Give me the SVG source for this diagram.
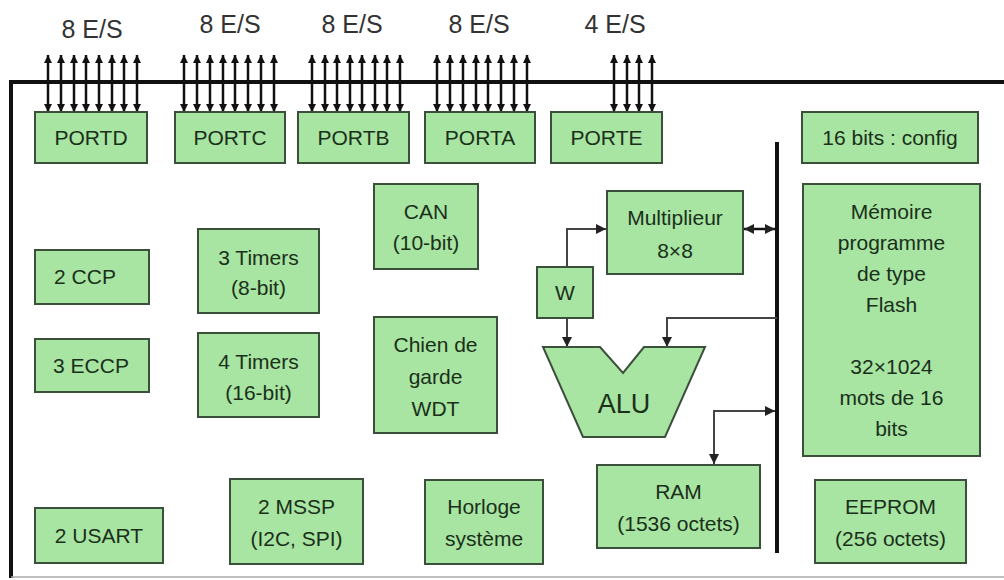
<svg xmlns="http://www.w3.org/2000/svg" width="1004" height="580" viewBox="0 0 1004 580">
<style>
.box{fill:#a8e4a2;stroke:#3b503b;stroke-width:2}
.t{font-family:"Liberation Sans",Arial,sans-serif;font-size:21px;fill:#1a301a;text-anchor:middle}
.lbl{font-family:"Liberation Sans",Arial,sans-serif;font-size:25px;fill:#333;text-anchor:middle}
.pin{stroke:#111;stroke-width:2.5;marker-start:url(#ah);marker-end:url(#ah)}
.con{fill:none;stroke:#444;stroke-width:2}
</style>
<defs>
<marker id="ah" viewBox="0 0 10 10" refX="10" refY="5" markerUnits="userSpaceOnUse" markerWidth="8" markerHeight="8" orient="auto-start-reverse">
<path d="M0,0 L10,5 L0,10 z" fill="#111"/>
</marker>
<marker id="ag" viewBox="0 0 10 10" refX="10" refY="5" markerUnits="userSpaceOnUse" markerWidth="10" markerHeight="10" orient="auto-start-reverse">
<path d="M0,0 L10,5 L0,10 z" fill="#222"/>
</marker>
</defs>
<rect width="1004" height="580" fill="#fff"/>
<g id="frame">
<line x1="10" y1="82" x2="1004" y2="82" stroke="#111" stroke-width="4"/>
<line x1="11" y1="80" x2="11" y2="578" stroke="#111" stroke-width="4"/>
<line x1="11" y1="577" x2="1004" y2="577" stroke="#aaa" stroke-width="1.5"/>
<line x1="777" y1="142" x2="777" y2="553" stroke="#111" stroke-width="4"/>
</g>
<g id="labels">
<text class="lbl" x="92" y="38">8 E/S</text>
<text class="lbl" x="230" y="33">8 E/S</text>
<text class="lbl" x="352" y="33">8 E/S</text>
<text class="lbl" x="479" y="33">8 E/S</text>
<text class="lbl" x="615" y="33">4 E/S</text>
</g>
<g id="connectors">
<line class="pin" x1="48" y1="55" x2="48" y2="112"/>
<line class="pin" x1="61" y1="55" x2="61" y2="112"/>
<line class="pin" x1="74" y1="55" x2="74" y2="112"/>
<line class="pin" x1="86" y1="55" x2="86" y2="112"/>
<line class="pin" x1="99" y1="55" x2="99" y2="112"/>
<line class="pin" x1="112" y1="55" x2="112" y2="112"/>
<line class="pin" x1="124" y1="55" x2="124" y2="112"/>
<line class="pin" x1="137" y1="55" x2="137" y2="112"/>
<line class="pin" x1="184" y1="55" x2="184" y2="112"/>
<line class="pin" x1="197" y1="55" x2="197" y2="112"/>
<line class="pin" x1="210" y1="55" x2="210" y2="112"/>
<line class="pin" x1="223" y1="55" x2="223" y2="112"/>
<line class="pin" x1="235" y1="55" x2="235" y2="112"/>
<line class="pin" x1="248" y1="55" x2="248" y2="112"/>
<line class="pin" x1="261" y1="55" x2="261" y2="112"/>
<line class="pin" x1="274" y1="55" x2="274" y2="112"/>
<line class="pin" x1="312" y1="55" x2="312" y2="112"/>
<line class="pin" x1="325" y1="55" x2="325" y2="112"/>
<line class="pin" x1="337" y1="55" x2="337" y2="112"/>
<line class="pin" x1="350" y1="55" x2="350" y2="112"/>
<line class="pin" x1="362" y1="55" x2="362" y2="112"/>
<line class="pin" x1="375" y1="55" x2="375" y2="112"/>
<line class="pin" x1="387" y1="55" x2="387" y2="112"/>
<line class="pin" x1="400" y1="55" x2="400" y2="112"/>
<line class="pin" x1="437" y1="55" x2="437" y2="112"/>
<line class="pin" x1="450" y1="55" x2="450" y2="112"/>
<line class="pin" x1="463" y1="55" x2="463" y2="112"/>
<line class="pin" x1="476" y1="55" x2="476" y2="112"/>
<line class="pin" x1="488" y1="55" x2="488" y2="112"/>
<line class="pin" x1="501" y1="55" x2="501" y2="112"/>
<line class="pin" x1="514" y1="55" x2="514" y2="112"/>
<line class="pin" x1="527" y1="55" x2="527" y2="112"/>
<line class="pin" x1="614" y1="55" x2="614" y2="112"/>
<line class="pin" x1="627" y1="55" x2="627" y2="112"/>
<line class="pin" x1="639" y1="55" x2="639" y2="112"/>
<line class="pin" x1="652" y1="55" x2="652" y2="112"/>
<line x1="744" y1="229" x2="775" y2="229" stroke="#111" stroke-width="2.5" marker-start="url(#ag)" marker-end="url(#ag)"/>
<path class="con" d="M567,267 V229 H606" marker-end="url(#ag)"/>
<path class="con" d="M567,318 V347" marker-end="url(#ag)"/>
<path class="con" d="M777,318 H667 V347" marker-end="url(#ag)"/>
<path class="con" d="M775,411 H714 V464" marker-start="url(#ag)" marker-end="url(#ag)"/>
</g>
<g id="portd"><rect class="box" x="35" y="112" width="112" height="51"/><text class="t" x="91" y="145">PORTD</text></g>
<g id="portc"><rect class="box" x="175" y="112" width="110" height="51"/><text class="t" x="230" y="145">PORTC</text></g>
<g id="portb"><rect class="box" x="298" y="112" width="111" height="51"/><text class="t" x="353.5" y="145">PORTB</text></g>
<g id="porta"><rect class="box" x="425" y="112" width="110" height="51"/><text class="t" x="480" y="145">PORTA</text></g>
<g id="porte"><rect class="box" x="551" y="112" width="111" height="51"/><text class="t" x="606.5" y="145">PORTE</text></g>
<g id="config"><rect class="box" x="802" y="112" width="176" height="51"/><text class="t" x="890" y="145">16 bits : config</text></g>
<g id="ccp"><rect class="box" x="35" y="250" width="114" height="54"/><text class="t" x="85" y="284">2 CCP</text></g>
<g id="eccp"><rect class="box" x="35" y="339" width="114" height="53"/><text class="t" x="91" y="373">3 ECCP</text></g>
<g id="timers8"><rect class="box" x="198" y="229" width="121" height="84"/><text class="t" x="258.5" y="265">3 Timers</text><text class="t" x="258.5" y="295">(8-bit)</text></g>
<g id="timers16"><rect class="box" x="198" y="333" width="121" height="84"/><text class="t" x="258.5" y="369">4 Timers</text><text class="t" x="258.5" y="400">(16-bit)</text></g>
<g id="can"><rect class="box" x="374" y="184" width="104" height="85"/><text class="t" x="426" y="219">CAN</text><text class="t" x="426" y="250">(10-bit)</text></g>
<g id="wdt"><rect class="box" x="374" y="317" width="123" height="116"/><text class="t" x="435.5" y="352">Chien de</text><text class="t" x="435.5" y="384">garde</text><text class="t" x="435.5" y="416">WDT</text></g>
<g id="mult"><rect class="box" x="607" y="191" width="136" height="83"/><text class="t" x="675" y="225">Multiplieur</text><text class="t" x="675" y="258">8×8</text></g>
<g id="w"><rect class="box" x="537" y="267" width="56" height="51"/><text class="t" x="565" y="300">W</text></g>
<g id="alu"><path class="box" d="M543,347 H600 L623,373 L644,347 H705 L665,437 H583 Z"/><text class="t" x="624" y="413" style="font-size:27px">ALU</text></g>
<g id="ram"><rect class="box" x="597" y="465" width="163" height="83"/><text class="t" x="678.5" y="499">RAM</text><text class="t" x="678.5" y="531">(1536 octets)</text></g>
<g id="flash"><rect class="box" x="803" y="184" width="177" height="272"/>
<text class="t" x="891.5" y="219">Mémoire</text>
<text class="t" x="891.5" y="250">programme</text>
<text class="t" x="891.5" y="281">de type</text>
<text class="t" x="891.5" y="312">Flash</text>
<text class="t" x="891.5" y="374">32×1024</text>
<text class="t" x="891.5" y="405">mots de 16</text>
<text class="t" x="891.5" y="436">bits</text>
</g>
<g id="eeprom"><rect class="box" x="815" y="480" width="151" height="83"/><text class="t" x="890.5" y="514">EEPROM</text><text class="t" x="890.5" y="546">(256 octets)</text></g>
<g id="usart"><rect class="box" x="35" y="508" width="128" height="55"/><text class="t" x="99" y="543">2 USART</text></g>
<g id="mssp"><rect class="box" x="230" y="479" width="133" height="85"/><text class="t" x="296.5" y="514">2 MSSP</text><text class="t" x="296.5" y="546">(I2C, SPI)</text></g>
<g id="horloge"><rect class="box" x="425" y="480" width="118" height="84"/><text class="t" x="484" y="514">Horloge</text><text class="t" x="484" y="546">système</text></g>
</svg>
